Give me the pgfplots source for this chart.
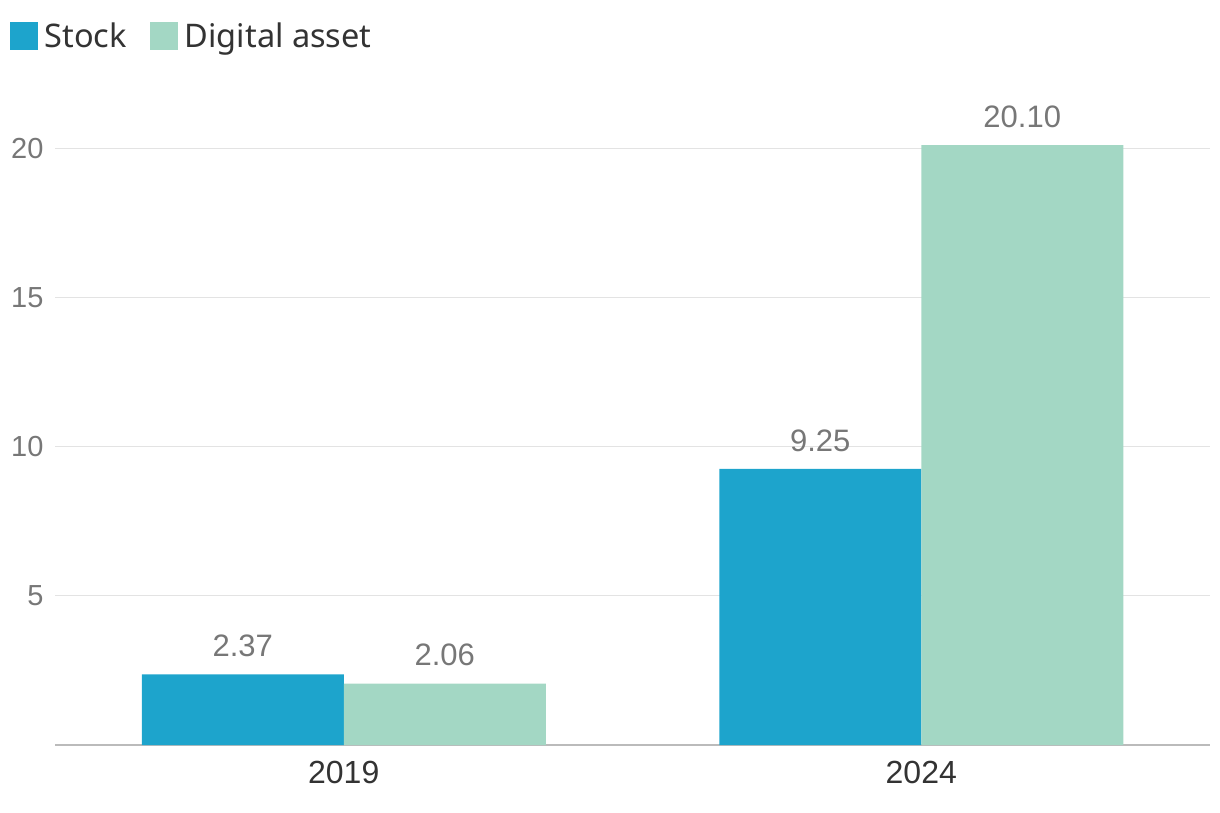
\documentclass[border=0pt]{standalone}
\usepackage{fontspec}
\setmainfont{Liberation Sans}
\newfontfamily\legfont{Noto Sans}
\usepackage{pgfplots}
\pgfplotsset{compat=1.18}
\definecolor{stock}{HTML}{1DA4CC}
\definecolor{digital}{HTML}{A3D7C4}
\definecolor{gridc}{HTML}{E3E3E3}
\definecolor{axisc}{HTML}{BBBBBB}
\definecolor{lab}{HTML}{777777}
\definecolor{dark}{HTML}{333333}
\begin{document}
\begin{tikzpicture}
\begin{axis}[
  at={(55pt,67pt)}, anchor=south west,
  scale only axis, width=1155pt, height=656.5pt,
  ybar=0pt, bar width=202pt,
  xmin=-0.5, xmax=1.5, ymin=0, ymax=22,
  xtick={0,1}, xticklabels={2019,2024},
  ytick={5,10,15,20},
  ymajorgrids, grid style={gridc, line width=1pt},
  axis x line*=bottom, axis y line*=left,
  x axis line style={axisc, line width=1.2pt, -},
  y axis line style={draw=none},
  major tick length=0pt,
  xticklabel style={font=\fontsize{32}{38}\selectfont, text=dark, yshift=-13pt},
  yticklabel style={font=\fontsize{29}{35}\selectfont, text=lab, xshift=-8pt},
  /pgf/number format/assume math mode=true,
  nodes near coords,
  nodes near coords style={font=\fontsize{31}{37}\selectfont, text=lab, yshift=14pt,
    /pgf/number format/fixed, /pgf/number format/fixed zerofill, /pgf/number format/precision=2},
  legend columns=2,
  legend style={at={(axis description cs:-0.042,1.107)}, anchor=north west, draw=none, fill=none,
    font=\legfont\fontsize{32.5}{40}\selectfont, text=dark,
    /tikz/every odd column/.append style={column sep=5pt},
    /tikz/every even column/.append style={column sep=21pt}},
  legend image code/.code={\fill[#1] (0pt,-14pt) rectangle (28pt,14pt);},
]
\addplot[draw=none, fill=stock] coordinates {(0,2.37) (1,9.25)};
\addplot[draw=none, fill=digital] coordinates {(0,2.06) (1,20.10)};
\legend{Stock, Digital asset}
\end{axis}
\pgfresetboundingbox
\path (0,0) rectangle (1220pt,812pt);
\end{tikzpicture}
\end{document}
